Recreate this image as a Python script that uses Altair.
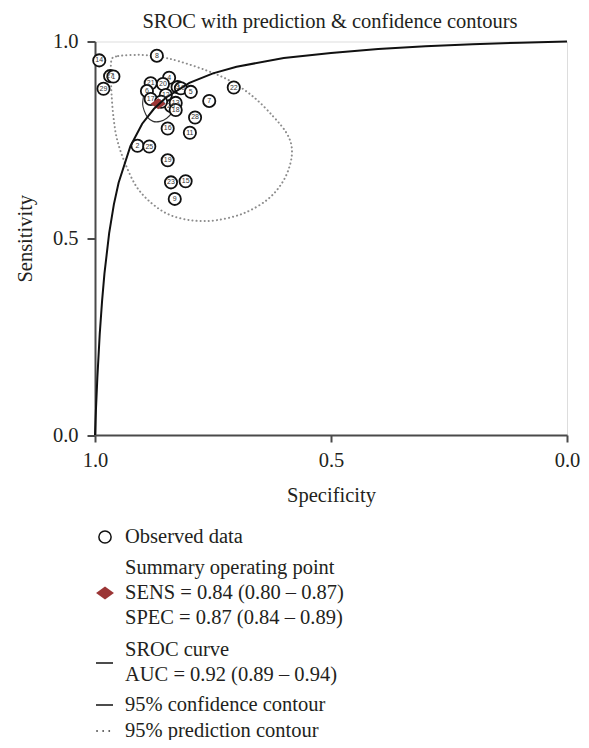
import altair as alt
import pandas as pd

# ---------------- data ----------------
study_labels = ["14", "8", "27", "1", "29", "4", "21", "20", "3", "10",
                "6", "5", "22", "7", "17", "12", "26", "13", "18", "28",
                "16", "11", "2", "25", "19", "23", "15", "9", "24"]
study_spec = [0.991, 0.869, 0.968, 0.961, 0.982, 0.843, 0.882, 0.856, 0.825, 0.818,
              0.890, 0.797, 0.706, 0.758, 0.882, 0.850, 0.839, 0.829, 0.829, 0.788,
              0.846, 0.799, 0.910, 0.885, 0.846, 0.839, 0.808, 0.831, 0.860]
study_sens = [0.952, 0.964, 0.912, 0.911, 0.880, 0.908, 0.894, 0.892, 0.884, 0.881,
              0.874, 0.872, 0.883, 0.849, 0.854, 0.864, 0.836, 0.844, 0.826, 0.807,
              0.779, 0.768, 0.735, 0.733, 0.698, 0.642, 0.645, 0.600, 0.847]

summary_spec = [0.866]
summary_sens = [0.842]

sroc_spec = [1.0, 0.999, 0.998, 0.995, 0.99, 0.985, 0.98, 0.97, 0.96, 0.95, 0.925, 0.9,
             0.875, 0.85, 0.8, 0.75, 0.7, 0.6, 0.5, 0.4, 0.3, 0.2, 0.1, 0.0]
sroc_sens = [0.0, 0.033, 0.064, 0.146, 0.256, 0.341, 0.410, 0.513, 0.586, 0.641, 0.734, 0.791,
             0.829, 0.857, 0.895, 0.919, 0.936, 0.958, 0.971, 0.981, 0.988, 0.993, 0.997, 1.0]

conf_spec = [0.898, 0.895, 0.885, 0.870, 0.855, 0.842, 0.835, 0.834, 0.838, 0.848,
             0.862, 0.877, 0.889, 0.896, 0.899]
conf_sens = [0.855, 0.872, 0.882, 0.886, 0.882, 0.870, 0.852, 0.835, 0.818, 0.805,
             0.797, 0.797, 0.808, 0.825, 0.840]

pred_spec = [0.965, 0.951, 0.905, 0.862, 0.820, 0.763, 0.714, 0.665, 0.622, 0.594,
             0.583, 0.587, 0.604, 0.636, 0.686, 0.742, 0.792, 0.841, 0.880, 0.912,
             0.936, 0.953, 0.961, 0.965, 0.966]
pred_sens = [0.953, 0.963, 0.966, 0.961, 0.949, 0.926, 0.900, 0.860, 0.809, 0.767,
             0.729, 0.686, 0.640, 0.597, 0.563, 0.546, 0.545, 0.559, 0.589, 0.631,
             0.690, 0.750, 0.809, 0.868, 0.911]

tick_values = [1.0, 0.5, 0.0]

title_text = "SROC with prediction & confidence contours"
x_title = "Specificity"
y_title = "Sensitivity"

legend_texts = ["Observed data", "Summary operating point", "SENS = 0.84 (0.80 – 0.87)",
                "SPEC = 0.87 (0.84 – 0.89)", "SROC curve", "AUC = 0.92 (0.89 – 0.94)",
                "95% confidence contour", "95% prediction contour"]

# ---------------- style / layout ----------------
SERIF = "Liberation Serif"
FS = 20.5
TXT = "#231f20"
AX = "#4a4a4a"
W, H = 472, 393.5

studies = pd.DataFrame({"label": study_labels, "spec": study_spec, "sens": study_sens})
summary = pd.DataFrame({"spec": summary_spec, "sens": summary_sens})
sroc = pd.DataFrame({"spec": sroc_spec, "sens": sroc_sens, "i": range(len(sroc_spec))})
conf = pd.DataFrame({"spec": conf_spec, "sens": conf_sens, "i": range(len(conf_spec))})
pred = pd.DataFrame({"spec": pred_spec, "sens": pred_sens, "i": range(len(pred_spec))})

x_axis = alt.Axis(values=tick_values, format=".1f", grid=False, labelFlush=False,
                  domainColor=AX, domainWidth=2, tickColor=AX, tickWidth=2, tickSize=7,
                  labelFont=SERIF, labelFontSize=FS, labelColor=TXT, labelPadding=8,
                  title=x_title, titleFont=SERIF, titleFontSize=FS, titleFontWeight="normal",
                  titleColor=TXT, titleX=W / 2, titleY=60, titleBaseline="middle",
                  titleAlign="center")
y_axis = alt.Axis(values=tick_values, format=".1f", grid=False, labelFlush=False,
                  domainColor=AX, domainWidth=2, tickColor=AX, tickWidth=2, tickSize=8,
                  labelFont=SERIF, labelFontSize=FS, labelColor=TXT, labelPadding=9,
                  title=y_title, titleFont=SERIF, titleFontSize=FS, titleFontWeight="normal",
                  titleColor=TXT, titleX=-70, titleY=H / 2, titleBaseline="middle",
                  titleAlign="center", titleAngle=270)

xs = alt.Scale(domain=[1, 0], nice=False, zero=False)
ys = alt.Scale(domain=[0, 1], nice=False, zero=False)


def X():
    return alt.X("spec:Q", scale=xs, axis=x_axis)


def Y():
    return alt.Y("sens:Q", scale=ys, axis=y_axis)


pred_layer = alt.Chart(pred).mark_line(
    interpolate="cardinal-closed", color="#8c8c8c", strokeWidth=2, strokeDash=[0.1, 4],
    strokeCap="round").encode(x=X(), y=Y(), order="i:Q")

conf_layer = alt.Chart(conf).mark_line(
    interpolate="cardinal-closed", color="#333333", strokeWidth=1.1).encode(
    x=X(), y=Y(), order="i:Q")

DIAMOND = "M-1,0L0,-0.72L1,0L0,0.72Z"
summary_layer = alt.Chart(summary).mark_point(
    shape=DIAMOND, filled=True, size=230, color="#9b3535", opacity=1).encode(
    x=X(), y=Y())

circles = alt.Chart(studies).mark_point(
    shape="circle", filled=True, size=150, fill="white", stroke="#111111", strokeWidth=1.8,
    opacity=1, fillOpacity=1, strokeOpacity=1).encode(x=X(), y=Y())

labels = alt.Chart(studies).mark_text(
    font="Liberation Sans", fontSize=7, color="#333333", baseline="middle",
    align="center").encode(x=X(), y=Y(), text="label:N")

sroc_layer = alt.Chart(sroc).mark_line(color="#111111", strokeWidth=2).encode(
    x=X(), y=Y(), order="i:Q")

# ---------------- title and custom legend (page layout) ----------------
one = pd.DataFrame({"k": [0]})
OX, OY = 95, 41.5  # plot origin on the page

title_layer = alt.Chart(one).mark_text(
    text=title_text, font=SERIF, fontSize=FS, color=TXT, align="center",
    baseline="middle").encode(x=alt.value(330 - OX), y=alt.value(22 - OY))

legend_text_y = [537, 568, 593, 618, 650, 675, 705, 731]

legend_layers = []
for t, py in zip(legend_texts, legend_text_y):
    legend_layers.append(
        alt.Chart(one).mark_text(text=t, font=SERIF, fontSize=FS, color=TXT,
                                 align="left", baseline="middle").encode(
            x=alt.value(125 - OX), y=alt.value(py - OY)))

legend_layers.append(
    alt.Chart(one).mark_point(shape="circle", filled=False, size=150, color="#111111",
                              strokeWidth=1.5, opacity=1).encode(
        x=alt.value(105 - OX), y=alt.value(537 - OY)))
legend_layers.append(
    alt.Chart(one).mark_point(shape=DIAMOND, filled=True, size=320, color="#9b3535",
                              opacity=1).encode(
        x=alt.value(105 - OX), y=alt.value(593 - OY)))
legend_layers.append(
    alt.Chart(one).mark_rule(color="#111111", strokeWidth=1.5).encode(
        x=alt.value(96 - OX), x2=alt.value(113 - OX), y=alt.value(663 - OY)))
legend_layers.append(
    alt.Chart(one).mark_rule(color="#111111", strokeWidth=1.5).encode(
        x=alt.value(96 - OX), x2=alt.value(113 - OX), y=alt.value(705 - OY)))
legend_layers.append(
    alt.Chart(one).mark_rule(color="#555555", strokeWidth=1.8, strokeDash=[0.1, 6],
                             strokeCap="round").encode(
        x=alt.value(97 - OX), x2=alt.value(111 - OX), y=alt.value(731 - OY)))

chart = alt.layer(
    pred_layer, conf_layer, circles, labels, summary_layer, sroc_layer,
    title_layer, *legend_layers
).properties(
    width=W, height=H,
    autosize=alt.AutoSizeParams(type="none"),
    padding={"left": OX - 8, "top": OY - 8, "right": 14, "bottom": 305},
).configure_view(strokeWidth=0).configure(background="white")

chart.save("out.html", embed_options={"renderer": "svg", "actions": False})
